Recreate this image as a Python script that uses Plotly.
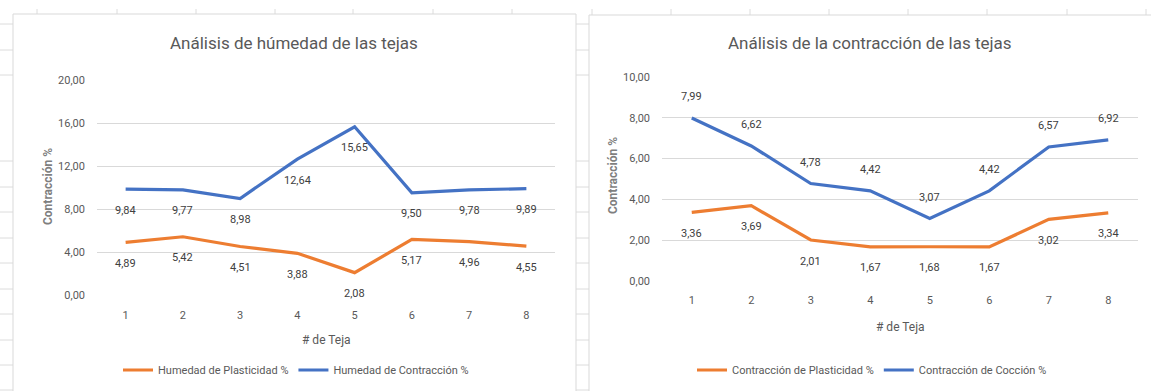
import plotly.graph_objects as go

# Número de teja
tejas = [1, 2, 3, 4, 5, 6, 7, 8]

# Análisis de humedad (%)
humedad_plasticidad = [4.89, 5.42, 4.51, 3.88, 2.08, 5.17, 4.96, 4.55]
humedad_contraccion = [9.84, 9.77, 8.98, 12.64, 15.65, 9.50, 9.78, 9.89]

# Análisis de contracción (%)
contraccion_plasticidad = [3.36, 3.69, 2.01, 1.67, 1.68, 1.67, 3.02, 3.34]
contraccion_coccion = [7.99, 6.62, 4.78, 4.42, 3.07, 4.42, 6.57, 6.92]

W, H = 1151, 391
FONT = "Roboto, Arial, sans-serif"
ORANGE = "#ED7D31"
BLUE = "#4472C4"
GRID = "#d9d9d9"
TXT = "#595959"


def px(x):
    return x / W


def py(y):
    return 1 - y / H


fig = go.Figure()

fig.add_trace(go.Scatter(x=tejas, y=humedad_plasticidad, mode="lines",
                         name="Humedad de Plasticidad %",
                         line=dict(color=ORANGE, width=3.2),
                         xaxis="x", yaxis="y", legend="legend"))
fig.add_trace(go.Scatter(x=tejas, y=humedad_contraccion, mode="lines",
                         name="Humedad de Contracción %",
                         line=dict(color=BLUE, width=3.2),
                         xaxis="x", yaxis="y", legend="legend"))
fig.add_trace(go.Scatter(x=tejas, y=contraccion_plasticidad, mode="lines",
                         name="Contracción de Plasticidad %",
                         line=dict(color=ORANGE, width=3.2),
                         xaxis="x2", yaxis="y2", legend="legend2"))
fig.add_trace(go.Scatter(x=tejas, y=contraccion_coccion, mode="lines",
                         name="Contracción de Cocción %",
                         line=dict(color=BLUE, width=3.2),
                         xaxis="x2", yaxis="y2", legend="legend2"))

annotations = []


def etiquetas(valores, xref, yref, shift):
    for t, v in zip(tejas, valores):
        annotations.append(dict(
            x=t, y=v, xref=xref, yref=yref, yshift=shift,
            text=f"{v:.2f}".replace(".", ","), showarrow=False,
            font=dict(family=FONT, size=11, color="#404040")))


etiquetas(humedad_plasticidad, "x", "y", -21)
etiquetas(humedad_contraccion, "x", "y", -21)
etiquetas(contraccion_plasticidad, "x2", "y2", -21)
etiquetas(contraccion_coccion, "x2", "y2", 21)

# Títulos de los gráficos y de los ejes
for txt, cx, cy, size, ang, color in [
    ("Análisis de húmedad de las tejas", 294, 43, 17, 0, TXT),
    ("Análisis de la contracción de las tejas", 870, 43, 17, 0, TXT),
    ("# de Teja", 326, 340, 12, 0, TXT),
    ("# de Teja", 900, 327, 12, 0, TXT),
    ("<b>Contracción %</b>", 48, 187, 12, -90, "#7f7f7f"),
    ("<b>Contracción %</b>", 613, 176, 12, -90, "#7f7f7f"),
]:
    annotations.append(dict(
        x=px(cx), y=py(cy), xref="paper", yref="paper", text=txt,
        showarrow=False, textangle=ang, xanchor="center", yanchor="middle",
        font=dict(family=FONT, size=size, color=color)))

# Cuadrícula de la hoja de cálculo y marcos de los gráficos
shapes = []
filas = [24, 50, 75, 161, 187, 212, 238, 263, 289, 314, 340, 365, 390]
for yy in filas:
    shapes.append(dict(type="line", xref="paper", yref="paper",
                       x0=0, x1=px(13), y0=py(yy), y1=py(yy),
                       line=dict(color="#dcdcdc", width=1), layer="below"))
    shapes.append(dict(type="line", xref="paper", yref="paper",
                       x0=px(576), x1=px(589), y0=py(yy), y1=py(yy),
                       line=dict(color="#dcdcdc", width=1), layer="below"))
columnas = [37, 117, 196, 275, 353, 433, 512, 592, 671, 750, 829, 908, 987, 1067, 1146]
for xx in columnas:
    shapes.append(dict(type="line", xref="paper", yref="paper",
                       x0=px(xx), x1=px(xx), y0=py(9), y1=py(15),
                       line=dict(color="#dcdcdc", width=1), layer="below"))
shapes.append(dict(type="rect", xref="paper", yref="paper",
                   x0=px(13), x1=px(576), y0=py(430), y1=py(14),
                   fillcolor="white", line=dict(color=GRID, width=1), layer="below"))
shapes.append(dict(type="rect", xref="paper", yref="paper",
                   x0=px(589), x1=px(1180), y0=py(430), y1=py(15),
                   fillcolor="white", line=dict(color=GRID, width=1), layer="below"))

xaxis_common = dict(range=[0.5, 8.5], tickvals=tejas, showgrid=False,
                    zeroline=False, showline=False, ticks="",
                    tickfont=dict(family=FONT, size=11, color=TXT),
                    fixedrange=True)
yaxis_common = dict(tickformat=".2f", showgrid=True, gridcolor=GRID, gridwidth=1,
                    zeroline=False, showline=False, ticks="",
                    tickfont=dict(family=FONT, size=11, color=TXT),
                    ticklabelstandoff=11, fixedrange=True)

fig.update_layout(
    width=W, height=H,
    margin=dict(l=0, r=0, t=0, b=0, autoexpand=False),
    paper_bgcolor="white",
    plot_bgcolor="rgba(0,0,0,0)",
    separators=",.",
    font=dict(family=FONT, color=TXT),
    xaxis=dict(domain=[px(97), px(555)], anchor="y", ticklabelstandoff=12,
               **xaxis_common),
    yaxis=dict(domain=[py(295), py(80)], anchor="x", range=[0, 20], dtick=4,
               **yaxis_common),
    xaxis2=dict(domain=[px(662), px(1138)], anchor="y2", ticklabelstandoff=11,
                **xaxis_common),
    yaxis2=dict(domain=[py(281), py(77)], anchor="x2", range=[0, 10], dtick=2,
                **yaxis_common),
    legend=dict(orientation="h", x=px(296), y=py(370), xanchor="center",
                yanchor="middle", font=dict(family=FONT, size=11, color=TXT),
                bgcolor="rgba(0,0,0,0)"),
    legend2=dict(orientation="h", x=px(872), y=py(370), xanchor="center",
                 yanchor="middle", font=dict(family=FONT, size=11, color=TXT),
                 bgcolor="rgba(0,0,0,0)"),
    annotations=annotations,
    shapes=shapes,
)

fig.write_html("out.html")
